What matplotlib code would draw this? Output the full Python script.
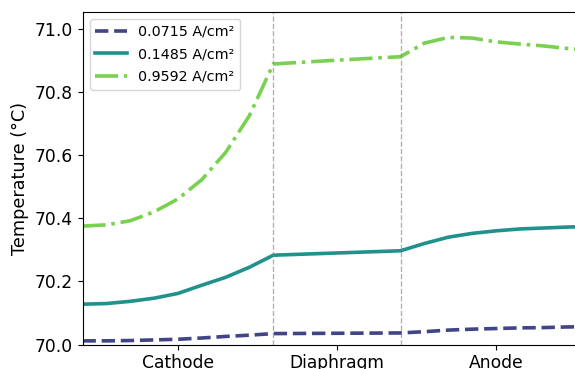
import matplotlib
matplotlib.use("Agg")
import matplotlib.pyplot as plt
import numpy as np

# position through the cell (mm): cathode 0-3, diaphragm 3-5, anode 5-8
x_cathode = [0.0, 0.375, 0.75, 1.125, 1.5, 1.875, 2.25, 2.625, 3.0]
x_diaphragm = [3.0, 4.0, 5.0]
x_anode = [5.0, 5.375, 5.75, 6.125, 6.5, 6.875, 7.25, 7.625, 8.0]

labels = ["0.0715 A/cm²", "0.1485 A/cm²", "0.9592 A/cm²"]

t_low = {
    "cathode": [70.012, 70.012, 70.013, 70.015, 70.017, 70.021, 70.026, 70.030, 70.035],
    "diaphragm": [70.035, 70.036, 70.037],
    "anode": [70.037, 70.041, 70.046, 70.049, 70.051, 70.053, 70.054, 70.056, 70.057],
}
t_mid = {
    "cathode": [70.128, 70.130, 70.137, 70.147, 70.162, 70.188, 70.213, 70.245, 70.283],
    "diaphragm": [70.283, 70.290, 70.297],
    "anode": [70.297, 70.320, 70.340, 70.352, 70.360, 70.366, 70.369, 70.372, 70.374],
}
t_high = {
    "cathode": [70.375, 70.379, 70.392, 70.420, 70.461, 70.522, 70.608, 70.725, 70.888],
    "diaphragm": [70.888, 70.900, 70.911],
    "anode": [70.911, 70.954, 70.972, 70.970, 70.958, 70.951, 70.945, 70.937, 70.931],
}

regions = ["Cathode", "Diaphragm", "Anode"]
boundaries = [3.0, 5.0]

x_all = np.concatenate([x_cathode, x_diaphragm[1:], x_anode[1:]])


def join(t):
    return np.concatenate([t["cathode"], t["diaphragm"][1:], t["anode"][1:]])


colors = plt.cm.viridis([0.2, 0.5, 0.8])
styles = ["--", "-", "-."]

fig = plt.figure(figsize=(5.75, 3.69), dpi=100)
ax = fig.add_axes([0.1435, 0.066, 0.885, 0.902])

for t, lab, c, ls in zip([t_low, t_mid, t_high], labels, colors, styles):
    ax.plot(x_all, join(t), ls, color=c, lw=2.6, label=lab)

for b in boundaries:
    ax.axvline(b, color="gray", ls="--", lw=1, alpha=0.6)

centers = [(0.0 + 3.0) / 2, (3.0 + 5.0) / 2, (5.0 + 8.0) / 2]
ax.set_xticks(centers)
ax.set_xticklabels(regions, fontsize=12.3)
ax.set_xlim(0, 8)
ax.set_ylim(70.0, 71.053)
ax.set_yticks([70.0, 70.2, 70.4, 70.6, 70.8, 71.0])
ax.tick_params(axis="y", labelsize=12.3)
ax.set_ylabel("Temperature (°C)", fontsize=12.7)
ax.legend(loc="upper left", fontsize=10.3, labelspacing=0.6, handlelength=2.2)

fig.savefig("out.png", dpi=100)
